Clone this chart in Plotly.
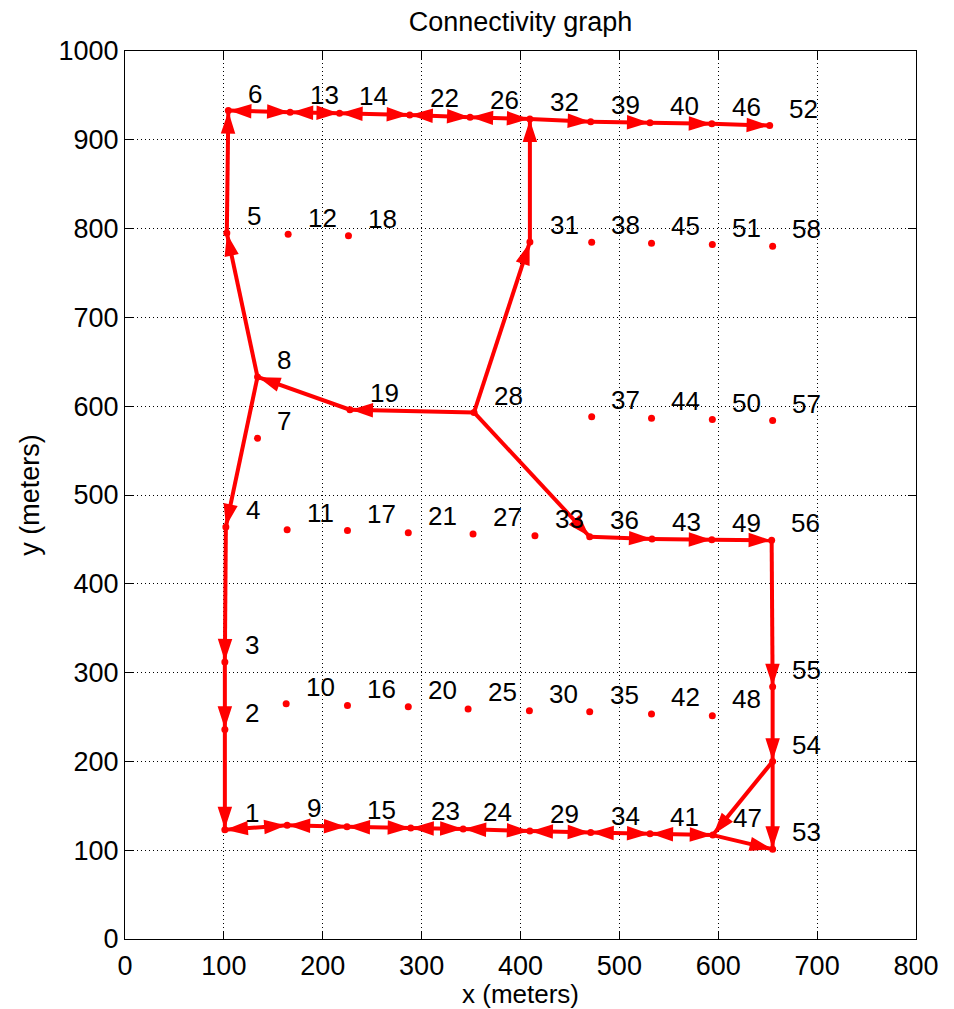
import math
import plotly.graph_objects as go

# ---------------- data ----------------
node_ids = list(range(1, 59))
node_x = [101, 101, 101, 102, 103, 104.5, 134, 134, 164, 163,
          164, 165, 167, 217, 224.5, 225, 225, 226, 227.5, 286.5,
          286.5, 288, 289, 342, 347, 349, 352, 353, 409.5, 409,
          409.5, 409.5, 414.6, 471, 470, 470, 472, 472, 471, 531,
          531, 532.5, 533, 532.5, 532.5, 593.5, 594.5, 594, 593.5, 594,
          594, 652, 655, 655, 655, 654, 655, 655]
node_y = [123, 236, 312, 464, 795, 933, 564, 633, 128, 265,
          461, 793.5, 931, 930, 126.5, 263, 460, 792, 596, 261.6,
          457.5, 928, 125, 124, 259, 925.5, 456, 593, 121.5, 257,
          785, 923.4, 454, 120, 256, 453, 588, 784.6, 920.4, 919.3,
          118.5, 253.4, 450.5, 586.4, 783.4, 918, 117, 251.5, 449.5, 585,
          782, 916, 101, 200, 284, 449, 584, 780]

# one-way links of the route (from, to)
oneway_from = [28, 19, 8, 5, 8, 4, 3, 2, 28, 31, 28, 36, 43, 49, 56, 55, 54, 54, 47, 32, 39, 40, 46]
oneway_to   = [19, 8, 5, 6, 4, 3, 2, 1, 31, 32, 36, 43, 49, 56, 55, 54, 53, 47, 53, 39, 40, 46, 52]
# two-way links (arrows in both directions)
twoway_a = [6, 13, 14, 22, 26, 1, 9, 15, 23, 24, 29, 34, 41]
twoway_b = [13, 14, 22, 26, 32, 9, 15, 23, 24, 29, 34, 41, 47]

title_text = "Connectivity graph"
x_title = "x (meters)"
y_title = "y (meters)"
x_ticks = list(range(0, 801, 100))
y_ticks = list(range(0, 1001, 100))

# ---------------- figure ----------------
W, H = 954, 1009
ML, MR, MT, MB = 125, 38, 51, 70
SX = (W - ML - MR) / 800.0
SY = (H - MT - MB) / 1000.0
RED = "#FF0000"
FONT = "Liberation Sans, Arial, sans-serif"
FS = 27

pos = {n: (x, y) for n, x, y in zip(node_ids, node_x, node_y)}

directed = list(zip(oneway_from, oneway_to))
for a, b in zip(twoway_a, twoway_b):
    directed.append((a, b))
    directed.append((b, a))

# edge lines
lx, ly = [], []
for a, b in zip(oneway_from + twoway_a, oneway_to + twoway_b):
    lx += [pos[a][0], pos[b][0], None]
    ly += [pos[a][1], pos[b][1], None]

# arrow heads
STANDOFF = 4.0
tx, ty, ang = [], [], []
for a, b in directed:
    x0, y0 = pos[a]
    x1, y1 = pos[b]
    dxp = (x1 - x0) * SX
    dyp = (y1 - y0) * SY
    L = math.hypot(dxp, dyp)
    f = 1 - STANDOFF / L
    tx.append(x0 + f * (x1 - x0))
    ty.append(y0 + f * (y1 - y0))
    ang.append(math.degrees(math.atan2(dxp, dyp)))

fig = go.Figure()
fig.add_trace(go.Scatter(x=node_x, y=node_y, mode="markers",
                         marker=dict(color=RED, size=7), hoverinfo="skip"))
fig.add_trace(go.Scatter(x=lx, y=ly, mode="lines",
                         line=dict(color=RED, width=4), hoverinfo="skip"))
fig.add_trace(go.Scatter(x=tx, y=ty, mode="markers",
                         marker=dict(symbol="arrow", size=19, angle=ang, color=RED,
                                     line=dict(color=RED, width=2)),
                         hoverinfo="skip"))

annotations = []
for n, x, y in zip(node_ids, node_x, node_y):
    annotations.append(dict(x=x + 18, y=y + 19, xref="x", yref="y", text=str(n),
                            showarrow=False, xanchor="left", yanchor="middle",
                            font=dict(family=FONT, size=26, color="black")))

axis_common = dict(showline=True, linecolor="black", linewidth=1, mirror="ticks",
                   ticks="inside", ticklen=8, tickcolor="black", automargin=False,
                   showgrid=True, gridcolor="black", gridwidth=1, griddash="1px,3px",
                   zeroline=False, tickfont=dict(family=FONT, size=FS, color="black"))

fig.update_layout(
    width=W, height=H,
    margin=dict(l=ML, r=MR, t=MT, b=MB),
    paper_bgcolor="white", plot_bgcolor="white",
    showlegend=False,
    title=dict(text=title_text, x=0.5, xanchor="center", xref="paper",
               y=1 - 22 / H, yanchor="middle",
               font=dict(family=FONT, size=FS, color="black")),
    xaxis=dict(range=[0, 800], tickvals=x_ticks, ticktext=[str(v) for v in x_ticks],
               ticklabelstandoff=3,
               title=dict(text=x_title, font=dict(family=FONT, size=26, color="black"), standoff=6),
               **axis_common),
    yaxis=dict(range=[0, 1000], tickvals=y_ticks, ticktext=[str(v) for v in y_ticks],
               title=dict(text=y_title, font=dict(family=FONT, size=FS, color="black"), standoff=11),
               **axis_common),
    annotations=annotations,
)

fig.write_html("out.html")
